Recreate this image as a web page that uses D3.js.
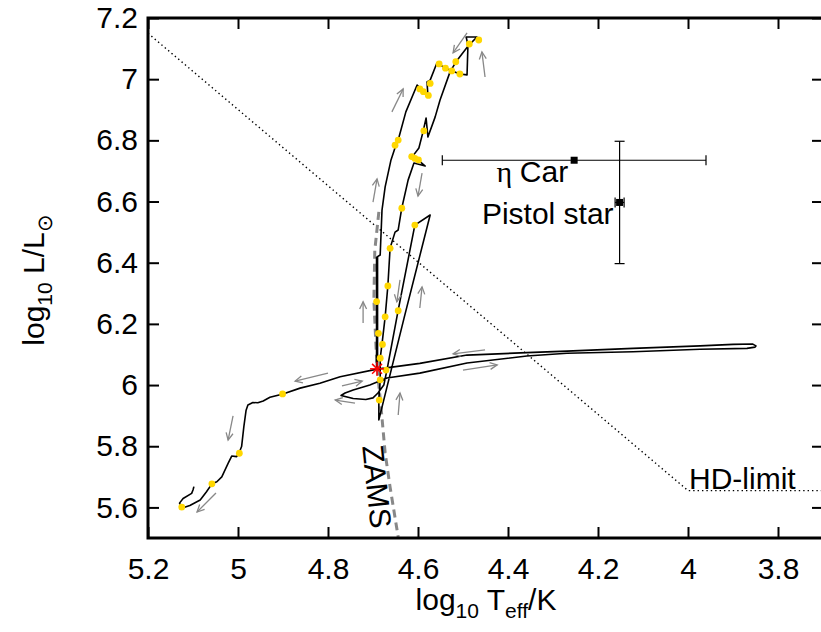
<!DOCTYPE html>
<html>
<head>
<meta charset="utf-8">
<script src="https://cdn.jsdelivr.net/npm/d3@7"></script>
<style>
  body { margin: 0; background: #fff; }
  text { font-family: "Liberation Sans", Arial, Helvetica, sans-serif; fill: #000; }
</style>
</head>
<body>
<div id="chart"></div>
<script>
// evolutionary track, [log Teff, log L], in the order it is drawn
const track = [
  [4.691, 6.053], [4.691, 6.213], [4.691, 6.419], [4.684, 6.425], [4.680, 6.572],
  [4.673, 6.648], [4.660, 6.736], [4.649, 6.785], [4.644, 6.801], [4.627, 6.893],
  [4.602, 6.981], [4.591, 6.965], [4.578, 6.948], [4.580, 6.991], [4.573, 6.997],
  [4.558, 7.053], [4.540, 7.037], [4.524, 7.027], [4.507, 7.017], [4.491, 7.014],
  [4.489, 7.112], [4.493, 7.138], [4.469, 7.138], [4.489, 7.108], [4.516, 7.056],
  [4.529, 7.023], [4.551, 6.932], [4.562, 6.876], [4.578, 6.811], [4.582, 6.873],
  [4.589, 6.827], [4.598, 6.775], [4.613, 6.746], [4.600, 6.736], [4.584, 6.716],
  [4.609, 6.726], [4.622, 6.670], [4.636, 6.579], [4.644, 6.507], [4.651, 6.500],
  [4.662, 6.448], [4.667, 6.324], [4.673, 6.223], [4.680, 6.134], [4.684, 6.088],
  [4.684, 6.017], [4.687, 5.951], [4.687, 5.886], [4.631, 6.219], [4.573, 6.556],
  [4.607, 6.523], [4.644, 6.245], [4.669, 6.049], [4.676, 6.000], [4.689, 5.974],
  [4.700, 5.958], [4.716, 5.953], [4.744, 5.956], [4.771, 5.966], [4.762, 5.974],
  [4.744, 5.984], [4.707, 6.000], [4.669, 6.023], [4.596, 6.039], [4.491, 6.072],
  [4.358, 6.095], [4.269, 6.104], [4.122, 6.109], [3.973, 6.117], [3.869, 6.120],
  [3.851, 6.124], [3.849, 6.128], [3.856, 6.134], [3.900, 6.133], [3.973, 6.128],
  [4.122, 6.120], [4.269, 6.111], [4.358, 6.106], [4.491, 6.098], [4.596, 6.071],
  [4.691, 6.052], [4.773, 6.027], [4.818, 6.006], [4.862, 5.990], [4.900, 5.971],
  [4.929, 5.960], [4.944, 5.948], [4.956, 5.942], [4.967, 5.943], [4.978, 5.935],
  [4.982, 5.918], [4.987, 5.864], [4.992, 5.799], [4.998, 5.777], [5.003, 5.766],
  [5.014, 5.768], [5.022, 5.744], [5.036, 5.700], [5.047, 5.684], [5.058, 5.677],
  [5.070, 5.651], [5.084, 5.624], [5.107, 5.606], [5.122, 5.599], [5.125, 5.602],
  [5.130, 5.614], [5.122, 5.629], [5.103, 5.646], [5.100, 5.657], [5.098, 5.668]
]

// main-sequence stretch, drawn twice in the original (looks heavier)
const msStretch = [[4.691, 6.053], [4.691, 6.213], [4.691, 6.419]]

// yellow model points on the track
const modelDots = [
  [4.465, 7.128], [4.486, 7.115], [4.516, 7.057], [4.553, 7.050], [4.539, 7.036],
  [4.525, 7.027], [4.507, 7.017], [4.573, 6.986], [4.596, 6.968], [4.588, 6.959],
  [4.577, 6.947], [4.587, 6.831], [4.644, 6.801], [4.651, 6.784], [4.614, 6.747],
  [4.607, 6.741], [4.599, 6.736], [4.636, 6.578], [4.607, 6.523], [4.662, 6.447],
  [4.667, 6.324], [4.692, 6.273], [4.673, 6.223], [4.644, 6.243], [4.688, 6.169],
  [4.679, 6.133], [4.684, 6.088], [4.671, 6.049], [4.684, 6.017], [4.686, 5.951],
  [4.901, 5.971], [4.997, 5.777], [5.058, 5.677], [5.125, 5.601]
]

// direction arrows: [from logT, from logL, to logT, to logL]
const arrows = [
  [4.491, 7.151, 4.522, 7.086], [4.451, 7.007, 4.458, 7.089], [4.658, 6.893, 4.633, 6.968],
  [4.591, 6.693, 4.600, 6.618], [4.700, 6.598, 4.691, 6.674], [4.722, 6.203, 4.722, 6.272],
  [4.640, 6.344, 4.647, 6.272], [4.596, 6.252, 4.591, 6.321], [4.644, 5.902, 4.640, 5.974],
  [4.451, 6.115, 4.522, 6.102], [4.500, 6.049, 4.424, 6.066], [4.769, 5.997, 4.724, 6.013],
  [4.740, 5.941, 4.784, 5.951], [4.800, 6.039, 4.873, 6.013], [5.011, 5.899, 5.022, 5.820],
  [5.049, 5.647, 5.091, 5.585]
]

// zero-age main sequence
const zams = [
  [4.687, 6.566], [4.696, 6.441], [4.698, 6.278], [4.694, 6.147], [4.691, 6.059],
  [4.681, 5.909], [4.673, 5.778], [4.662, 5.666], [4.644, 5.503], [4.641, 5.48]
]

// Humphreys-Davidson limit
const hdLimit = [[5.2, 7.15], [4.0, 5.655], [3.7, 5.655]]

const zamsStart = [4.691, 6.053]

const observed = [
  { name: 'Car', greek: 'η ', t: 4.253, l: 6.735, dt: 0.293, dl: 0 },
  { name: 'Pistol star', greek: '', t: 4.152, l: 6.597, dt: 0.01, dl: 0.2 }
]

const xTicks = [5.2, 5, 4.8, 4.6, 4.4, 4.2, 4, 3.8]
const yTicks = [7.2, 7, 6.8, 6.6, 6.4, 6.2, 6, 5.8, 5.6]

const width = 821
const height = 632
const pLeft = 148, pTop = 18, pRight = 823, pBottom = 538

const x = d3.scaleLinear().domain([5.2, 3.7]).range([pLeft, pRight])
const y = d3.scaleLinear().domain([5.5, 7.2]).range([pBottom, pTop])

const svg = d3.select('#chart')
  .append('svg')
  .attr('width', width)
  .attr('height', height)

svg.append('clipPath').attr('id', 'plot')
  .append('rect')
  .attr('x', pLeft).attr('y', pTop)
  .attr('width', pRight - pLeft).attr('height', pBottom - pTop)

const g = svg.append('g').attr('clip-path', 'url(#plot)')
const line = d3.line().x(d => x(d[0])).y(d => y(d[1]))

// HD limit
g.append('path')
  .attr('d', line(hdLimit))
  .attr('fill', 'none')
  .attr('stroke', '#000')
  .attr('stroke-width', 1.4)
  .attr('stroke-dasharray', '1.4,3')

// ZAMS
g.append('path')
  .attr('d', line(zams))
  .attr('fill', 'none')
  .attr('stroke', '#888')
  .attr('stroke-width', 3)
  .attr('stroke-dasharray', '8,5')

// track
g.append('path')
  .attr('d', line(track))
  .attr('fill', 'none')
  .attr('stroke', '#000')
  .attr('stroke-width', 1.6)
  .attr('stroke-linejoin', 'round')
g.append('path')
  .attr('d', line(msStretch))
  .attr('fill', 'none')
  .attr('stroke', '#000')
  .attr('stroke-width', 2.6)

// arrows
arrows.forEach(a => {
  const x0 = x(a[0]), y0 = y(a[1]), x1 = x(a[2]), y1 = y(a[3])
  const ang = Math.atan2(y1 - y0, x1 - x0)
  const head = 8, spread = 0.45
  const p = [
    [x1 - head * Math.cos(ang - spread), y1 - head * Math.sin(ang - spread)],
    [x1, y1],
    [x1 - head * Math.cos(ang + spread), y1 - head * Math.sin(ang + spread)]
  ]
  g.append('line')
    .attr('x1', x0).attr('y1', y0).attr('x2', x1).attr('y2', y1)
    .attr('stroke', '#888').attr('stroke-width', 1.3)
  g.append('polyline')
    .attr('points', p.map(q => q.join(',')).join(' '))
    .attr('fill', 'none').attr('stroke', '#888').attr('stroke-width', 1.3)
})

// model dots
g.selectAll('.dot')
  .data(modelDots)
  .enter()
    .append('circle')
    .attr('class', 'dot')
    .attr('cx', d => x(d[0]))
    .attr('cy', d => y(d[1]))
    .attr('r', 3.4)
    .attr('fill', '#ffd700')

// ZAMS starting point
const sx = x(zamsStart[0]), sy = y(zamsStart[1])
;[0, 45, 90, 135].forEach(deg => {
  const r = 7, a = deg * Math.PI / 180
  g.append('line')
    .attr('x1', sx - r * Math.cos(a)).attr('y1', sy - r * Math.sin(a))
    .attr('x2', sx + r * Math.cos(a)).attr('y2', sy + r * Math.sin(a))
    .attr('stroke', '#f00').attr('stroke-width', 1.5)
})

// observed stars with error bars
observed.forEach(s => {
  const cx = x(s.t), cy = y(s.l), cap = 5
  if (s.dt) {
    g.append('line').attr('x1', x(s.t + s.dt)).attr('x2', x(s.t - s.dt)).attr('y1', cy).attr('y2', cy)
      .attr('stroke', '#000').attr('stroke-width', 1.2)
    ;[s.t + s.dt, s.t - s.dt].forEach(v => {
      g.append('line').attr('x1', x(v)).attr('x2', x(v)).attr('y1', cy - cap).attr('y2', cy + cap)
        .attr('stroke', '#000').attr('stroke-width', 1.2)
    })
  }
  if (s.dl) {
    g.append('line').attr('x1', cx).attr('x2', cx).attr('y1', y(s.l + s.dl)).attr('y2', y(s.l - s.dl))
      .attr('stroke', '#000').attr('stroke-width', 1.2)
    ;[s.l + s.dl, s.l - s.dl].forEach(v => {
      g.append('line').attr('x1', cx - cap).attr('x2', cx + cap).attr('y1', y(v)).attr('y2', y(v))
        .attr('stroke', '#000').attr('stroke-width', 1.2)
    })
  }
  g.append('rect')
    .attr('x', cx - 3.5).attr('y', cy - 3.5)
    .attr('width', 7).attr('height', 7)
    .attr('fill', '#000')
  const t = svg.append('text')
    .attr('x', cx - 6).attr('y', cy + 22)
    .attr('text-anchor', 'end')
    .attr('font-size', 30)
  if (s.greek) t.append('tspan').attr('font-family', '"Liberation Serif", "DejaVu Serif", serif').text(s.greek)
  t.append('tspan').text(s.name)
})

// labels
svg.append('text')
  .attr('x', x(hdLimit[1][0]) + 1)
  .attr('y', y(hdLimit[1][1]) - 2)
  .attr('font-size', 30)
  .text('HD-limit')

svg.append('text')
  .attr('transform', 'translate(' + x(4.724) + ',' + y(5.80) + ') rotate(84)')
  .attr('font-size', 30)
  .text('ZAMS')

// axes
const styleAxis = sel => {
  sel.select('.domain').remove()
  sel.selectAll('.tick line').attr('stroke', '#000').attr('stroke-width', 2)
  sel.selectAll('.tick text').attr('fill', '#000')
  sel.attr('font-size', 30).attr('font-family', '"Liberation Sans", Arial, sans-serif')
}

svg.append('g')
  .attr('transform', 'translate(0,' + pBottom + ')')
  .call(d3.axisBottom(x).tickValues(xTicks).tickSize(-11).tickPadding(20).tickFormat(d => String(d)))
  .call(styleAxis)
svg.append('g')
  .attr('transform', 'translate(0,' + pTop + ')')
  .call(d3.axisTop(x).tickValues(xTicks).tickSize(-11).tickFormat(''))
  .call(styleAxis)
svg.append('g')
  .attr('transform', 'translate(' + pLeft + ',0)')
  .call(d3.axisLeft(y).tickValues(yTicks).tickSize(-11).tickPadding(10).tickFormat(d => String(d)))
  .call(styleAxis)
svg.append('g')
  .attr('transform', 'translate(' + pRight + ',0)')
  .call(d3.axisRight(y).tickValues(yTicks).tickSize(-11).tickFormat(''))
  .call(styleAxis)

svg.append('rect')
  .attr('x', pLeft).attr('y', pTop)
  .attr('width', pRight - pLeft).attr('height', pBottom - pTop)
  .attr('fill', 'none')
  .attr('stroke', '#000')
  .attr('stroke-width', 3)

// axis titles
const xt = svg.append('text')
  .attr('x', 486).attr('y', 610)
  .attr('text-anchor', 'middle')
  .attr('font-size', 30)
xt.append('tspan').text('log')
xt.append('tspan').attr('font-size', 21).attr('dy', 8).text('10')
xt.append('tspan').attr('dy', -8).text(' T')
xt.append('tspan').attr('font-size', 21).attr('dy', 8).text('eff')
xt.append('tspan').attr('dy', -8).text('/K')

const yt = svg.append('text')
  .attr('transform', 'translate(44,280) rotate(-90)')
  .attr('text-anchor', 'middle')
  .attr('font-size', 30)
yt.append('tspan').text('log')
yt.append('tspan').attr('font-size', 21).attr('dy', 8).text('10')
yt.append('tspan').attr('dy', -8).text(' L/L')
yt.append('tspan').attr('font-size', 21).attr('dy', 8).text('⊙')
</script>
</body>
</html>
